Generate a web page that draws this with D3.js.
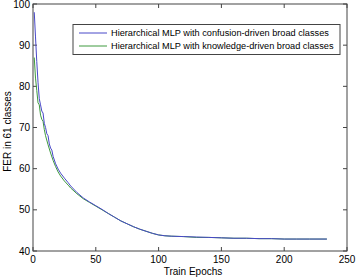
<!DOCTYPE html>
<html>
<head>
<meta charset="utf-8">
<script src="https://cdn.jsdelivr.net/npm/d3@7"></script>
<style>
  body { margin: 0; background: #fff; }
  text { font-family: "Liberation Sans", Arial, sans-serif; }
</style>
</head>
<body>
<svg id="chart" width="356" height="277"></svg>
<script>
const xTicks = [0, 50, 100, 150, 200, 250];
const yTicks = [40, 50, 60, 70, 80, 90, 100];
const seriesNames = ["Hierarchical MLP with confusion-driven broad classes",
                     "Hierarchical MLP with knowledge-driven broad classes"];

const blueEpochs = [1,2,3,4,5,6,7,8,9,10,11,12,13,14,15,16,18,20,22,25,28,30,35,40,45,50,55,60,65,70,75,80,85,90,95,100,105,110,120,130,140,150,160,170,180,190,200,210,220,234];
const blueValues = [98,92,86,81,77,75.5,74,73.5,71,70,68.5,68,66,65,64.5,63,61.2,59.9,58.9,57.7,56.6,55.8,54.2,52.9,51.9,51,50.1,49.1,48.2,47.3,46.6,45.9,45.3,44.8,44.3,43.9,43.7,43.6,43.5,43.4,43.3,43.2,43.1,43.1,43.0,43.0,42.9,42.9,42.9,42.9];

const greenEpochs = [1,2,3,4,5,6,7,8,9,10,12,14,16,18,20,22,25,28,30,35,40,45,50,55,60,65,70,75,80,85,90,95,100,105,110,120,130,140,150,160,170,180,190,200,210,220,234];
const greenValues = [87,82,79,76,75.5,73,72,71.5,69.5,68,65.8,63.8,62,60.5,59.2,58.2,57,56,55.3,53.9,52.7,51.8,50.9,50,49.1,48.2,47.3,46.6,45.9,45.3,44.8,44.3,43.9,43.7,43.6,43.5,43.3,43.3,43.2,43.1,43.1,43.0,43.0,42.9,42.9,42.9,42.9];

const margin = {top: 4, right: 9, bottom: 26, left: 33};
const width = 356 - margin.left - margin.right,
      height = 277 - margin.top - margin.bottom;

const svg = d3.select("#chart");
const g = svg.append("g").attr("transform", `translate(${margin.left},${margin.top})`);

const x = d3.scaleLinear().domain([0, 250]).range([0, width]);
const y = d3.scaleLinear().domain([40, 100]).range([height, 0]);

const axisColor = "#444";

// box
g.append("rect")
    .attr("width", width).attr("height", height)
    .attr("fill", "none").attr("stroke", axisColor).attr("stroke-width", 1);

// inward ticks on all four sides
const tl = 4;
g.selectAll(".xtb").data(xTicks).enter().append("line")
    .attr("x1", d => x(d)).attr("x2", d => x(d))
    .attr("y1", height).attr("y2", height - tl).attr("stroke", axisColor);
g.selectAll(".xtt").data(xTicks).enter().append("line")
    .attr("x1", d => x(d)).attr("x2", d => x(d))
    .attr("y1", 0).attr("y2", tl).attr("stroke", axisColor);
g.selectAll(".ytl").data(yTicks).enter().append("line")
    .attr("x1", 0).attr("x2", tl)
    .attr("y1", d => y(d)).attr("y2", d => y(d)).attr("stroke", axisColor);
g.selectAll(".ytr").data(yTicks).enter().append("line")
    .attr("x1", width).attr("x2", width - tl)
    .attr("y1", d => y(d)).attr("y2", d => y(d)).attr("stroke", axisColor);

// tick labels
g.selectAll(".xl").data(xTicks).enter().append("text")
    .attr("x", d => x(d)).attr("y", height + 12)
    .attr("text-anchor", "middle").style("font-size", "10px")
    .text(d => d);
g.selectAll(".yl").data(yTicks).enter().append("text")
    .attr("x", -3).attr("y", d => y(d) + 3.5)
    .attr("text-anchor", "end").style("font-size", "10px")
    .text(d => d);

// axis titles
svg.append("text")
    .attr("x", margin.left + width / 2 + 3).attr("y", 275)
    .attr("text-anchor", "middle").style("font-size", "10px")
    .text("Train Epochs");
svg.append("text")
    .attr("transform", `translate(11,${margin.top + height / 2 + 4}) rotate(-90)`)
    .attr("text-anchor", "middle").style("font-size", "10px")
    .text("FER in 61 classes");

const line = d3.line().x(d => x(d[0])).y(d => y(d[1]));
const blueColor = "#4848c8", greenColor = "#3f9a3f";

g.append("path")
    .datum(greenEpochs.map((e, i) => [e, greenValues[i]]))
    .attr("d", line).attr("fill", "none")
    .attr("stroke", greenColor).attr("stroke-width", 1);
g.append("path")
    .datum(blueEpochs.map((e, i) => [e, blueValues[i]]))
    .attr("d", line).attr("fill", "none")
    .attr("stroke", blueColor).attr("stroke-width", 1);

// legend
const lg = svg.append("g");
lg.append("rect")
    .attr("x", 73).attr("y", 24.5).attr("width", 267).attr("height", 30)
    .attr("fill", "#fff").attr("stroke", axisColor);
[blueColor, greenColor].forEach((c, i) => {
    const ly = 33 + i * 13;
    lg.append("line").attr("x1", 79).attr("x2", 107)
        .attr("y1", ly).attr("y2", ly).attr("stroke", c);
    lg.append("text").attr("x", 111).attr("y", ly + 3.3)
        .style("font-size", "9.2px").text(seriesNames[i]);
});
</script>
</body>
</html>
